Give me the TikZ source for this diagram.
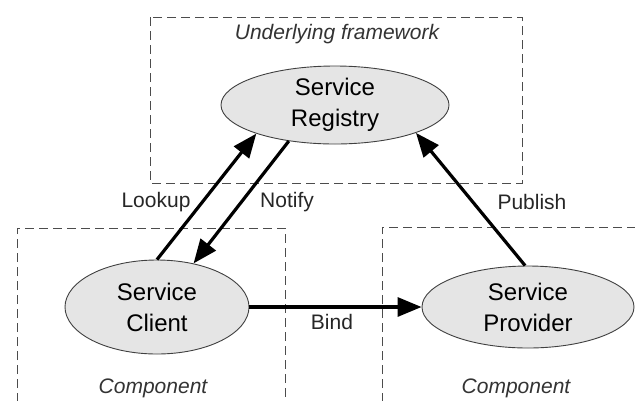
\documentclass[tikz,border=0pt]{standalone}
\usepackage{fontspec}
\setmainfont{Liberation Sans}
\usetikzlibrary{shapes.geometric,arrows.meta}
\begin{document}
\begin{tikzpicture}[x=1pt,y=-1pt,
  svc/.style={ellipse,draw=black!75,line width=0.9pt,fill=black!10,inner sep=0pt,
     align=center,font=\fontsize{24}{31}\selectfont},
  conn/.style={line width=3.2pt,-{Triangle[length=24pt,width=19pt]}},
  lbl/.style={font=\fontsize{21}{25}\selectfont,text=black!85,inner sep=0pt},
  ttl/.style={font=\fontsize{21}{25}\selectfont\itshape,text=black!80,inner sep=0pt},
  frame/.style={draw=black!70,line width=0.9pt,dash pattern=on 9pt off 5pt}]
\useasboundingbox (0,0) rectangle (635,400);
% frames
\draw[frame] (150,17) rectangle (522,183);
\draw[frame] (17,402) -- (17,228) -- (285,228) -- (285,402);
\draw[frame] (382,402) -- (382,227) -- (640,227);
% nodes
\node[svc,minimum width=228pt,minimum height=78pt] (reg) at (335,105) {Service\\Registry};
\node[svc,minimum width=184pt,minimum height=94pt] (cli) at (157,307) {Service\\Client};
\node[svc,minimum width=212pt,minimum height=82pt] (pro) at (528,307) {Service\\Provider};
% titles
\node[ttl] (t1) at (337,34) {Underlying framework};
\node[ttl] (t2) at (153,388) {Component};
\node[ttl] (t3) at (516,388) {Component};
% connectors
\draw[conn] (cli.90) -- (reg.200);
\draw[conn] (reg.218) -- (cli.50);
\draw[conn] (pro.94) -- (reg.341);
\draw[conn] (cli.east) -- (pro.west);
% labels
\node[lbl] (l1) at (156,202) {Lookup};
\node[lbl] (l2) at (287,202) {Notify};
\node[lbl] (l3) at (532,202) {Publish};
\node[lbl] (l4) at (332,322) {Bind};
\end{tikzpicture}
\end{document}
